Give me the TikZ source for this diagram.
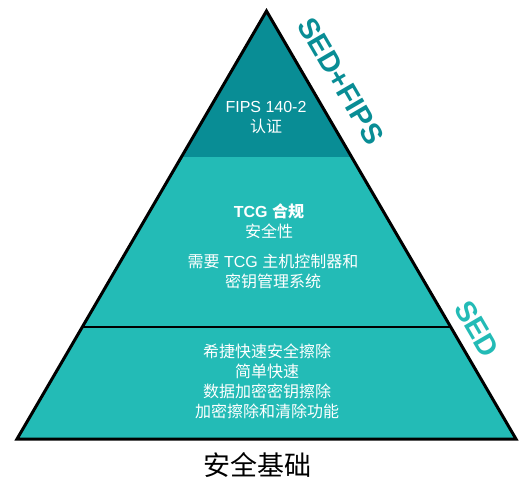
\documentclass[tikz,border=0pt]{standalone}
\usepackage{fontspec}
\setmainfont{Liberation Sans}
\newfontfamily\cjk{Noto Sans CJK SC}
\usetikzlibrary{calc}

\definecolor{tealdark}{HTML}{098D95}
\definecolor{teallight}{HTML}{23BBB6}

\tikzset{
  tierlabel/.style={text=white, align=center, font=\fontsize{16bp}{20bp}\selectfont},
  sidelabel/.style={font=\fontsize{29bp}{29bp}\selectfont\bfseries, rotate=-59.7},
  pyramidedge/.style={draw=black, line width=3bp, line join=miter},
}

\begin{document}
\begin{tikzpicture}[x=1bp, y=-1bp]
            \useasboundingbox (0,0) rectangle (524,484);

            \def \topcut {0.341} % FIPS tier ends here, as a part of the side
            \def \midcut {0.738} % SED tier starts here

            \coordinate (apex) at (266.5,11);
            \coordinate (baseL) at (17,439);
            \coordinate (baseR) at (516,439);
            \coordinate (fipsL) at ($(apex)!\topcut!(baseL)$);
            \coordinate (fipsR) at ($(apex)!\topcut!(baseR)$);
            \coordinate (sedL) at ($(apex)!\midcut!(baseL)$);
            \coordinate (sedR) at ($(apex)!\midcut!(baseR)$);

            \fill[teallight] (apex) -- (baseL) -- (baseR) -- cycle;
            \fill[tealdark] (apex) -- (fipsL) -- (fipsR) -- cycle;
            \draw[line width=2.5bp] (sedL) -- (sedR);
            \draw[pyramidedge] (apex) -- (baseL) -- (baseR) -- cycle;

            \node[tierlabel] (fips) at (266,118) {FIPS 140-2\\{\cjk 认证}};
            \node[tierlabel] (tcg) at (269,221) {{\bfseries TCG {\cjk 合规}}\\{\cjk 安全性}};
            \node[tierlabel] (keys) at (273,271) {{\cjk 需要} TCG {\cjk 主机控制器和}\\{\cjk 密钥管理系统}};

            \foreach \line [count=\i] in {希捷快速安全擦除, 简单快速, 数据加密密钥擦除, 加密擦除和清除功能}
            {
              \node[tierlabel] (erase\i) at (267,331+20*\i) {\cjk \line};
            }

            \node[font=\cjk\fontsize{27bp}{27bp}\selectfont] (base) at (257,465) {安全基础};
            \node[sidelabel, text=tealdark] (sedfips) at (341,81) {SED+FIPS};
            \node[sidelabel, text=teallight] (sed) at (477,329) {SED};
\end{tikzpicture}
\end{document}
